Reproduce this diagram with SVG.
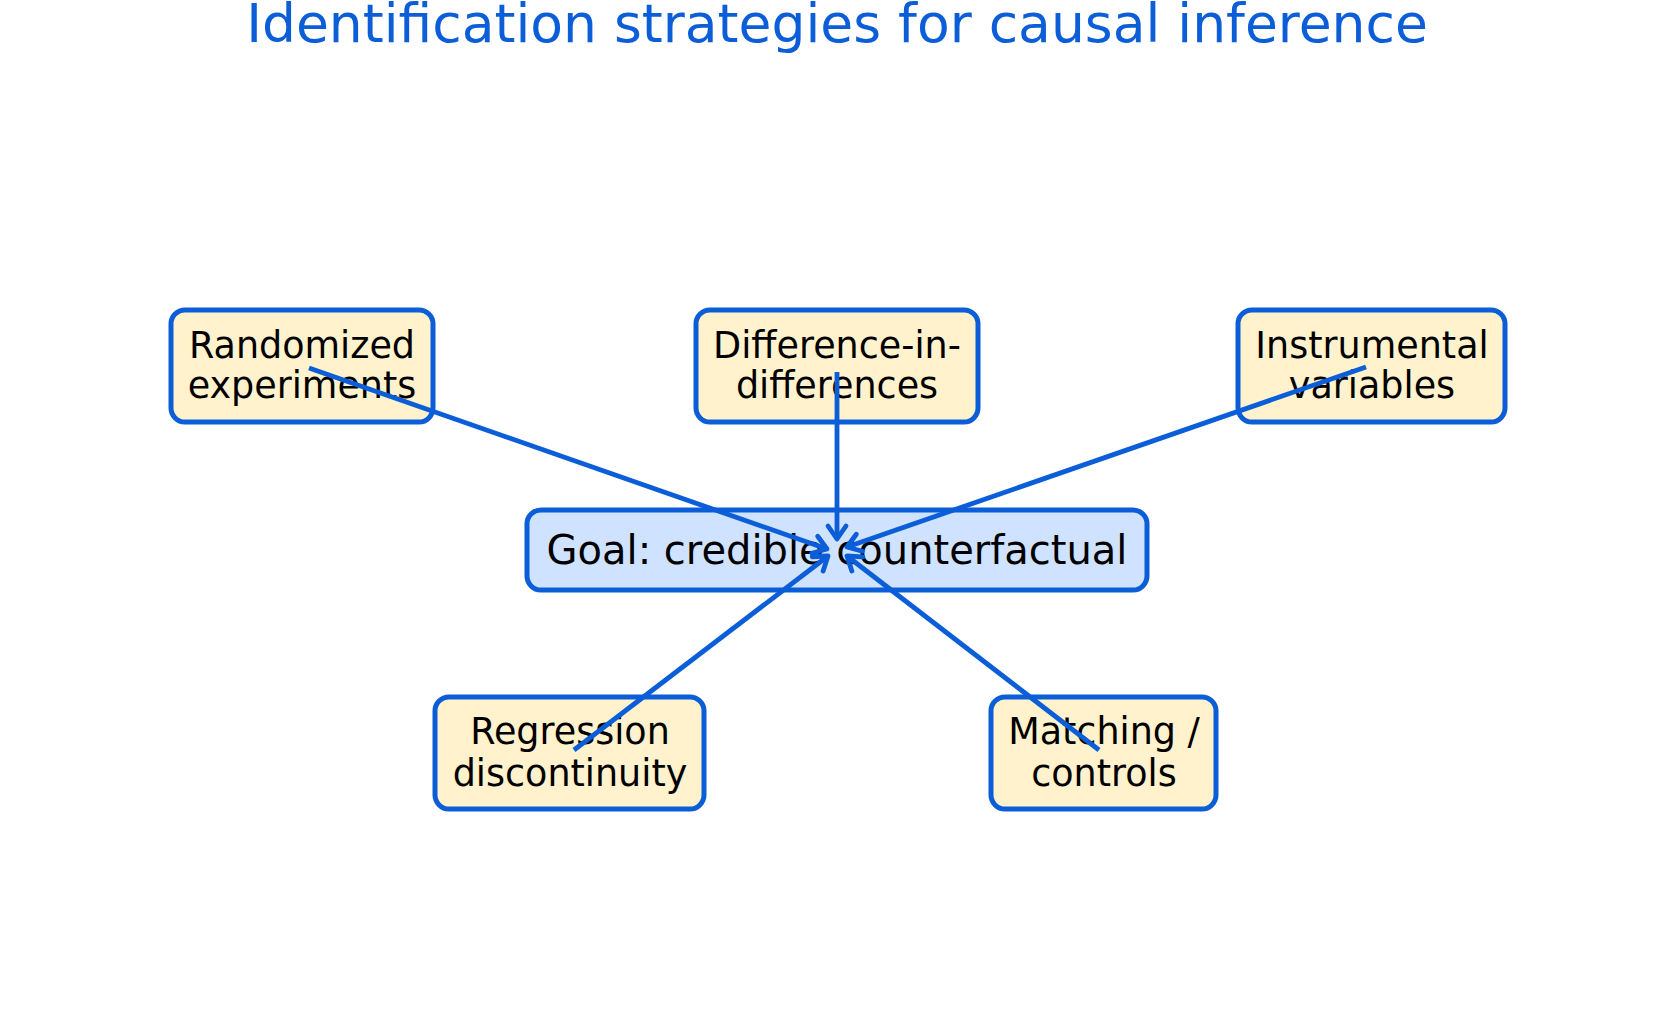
<svg xmlns="http://www.w3.org/2000/svg" width="1674" height="1031" viewBox="0 0 1674 1031">
<style>
text{font-family:"DejaVu Sans",sans-serif;fill:#000;text-anchor:middle}
.n rect{fill:#fff2cc;stroke:#0b5ed7;stroke-width:5}
.g rect{fill:#cfe2ff;stroke:#0b5ed7;stroke-width:5}
.n text{font-size:36.5px}
.c line{stroke:#0b5ed7;stroke-width:4.8;marker-end:url(#a)}
</style>
<defs><marker id="a" markerWidth="8" markerHeight="8" refX="7" refY="4" orient="auto" markerUnits="userSpaceOnUse" viewBox="0 0 8 8" style="overflow:visible"><path d="M-6,-5 L7,4 L-6,13" fill="none" stroke="#0b5ed7" stroke-width="4.8" stroke-linecap="round" stroke-linejoin="round"/></marker></defs>
<rect width="1674" height="1031" fill="#fff"/>
<text x="837" y="42" style="font-size:53.5px;fill:#0b5ed7">Identification strategies for causal inference</text>
<g transform="translate(2,1)">
<g id="goal" class="g"><rect x="525" y="509" width="620" height="80" rx="14"/><text x="835" y="563" style="font-size:40px">Goal: credible counterfactual</text></g>
<g id="rand" class="n"><rect x="169" y="309" width="262" height="112" rx="14"/><text x="300" y="357">Randomized</text><text x="300" y="397">experiments</text></g>
<g id="did" class="n"><rect x="694" y="309" width="282" height="112" rx="14"/><text x="835" y="357">Difference-in-</text><text x="835" y="397">differences</text></g>
<g id="iv" class="n"><rect x="1236" y="309" width="267" height="112" rx="14"/><text x="1370" y="357">Instrumental</text><text x="1370" y="397">variables</text></g>
<g id="rd" class="n"><rect x="433" y="696" width="269" height="112" rx="14"/><text x="568" y="743">Regression</text><text x="568" y="785">discontinuity</text></g>
<g id="match" class="n"><rect x="989" y="696" width="225" height="112" rx="14"/><text x="1102" y="743">Matching /</text><text x="1102" y="785">controls</text></g>
<g id="connectors" class="c">
<line x1="307" y1="367" x2="825" y2="548"/>
<line x1="835" y1="371" x2="835" y2="538"/>
<line x1="1364" y1="366" x2="845" y2="546"/>
<line x1="572" y1="749" x2="826" y2="555"/>
<line x1="1097" y1="749" x2="845" y2="555"/>
</g>
</g>
</svg>
